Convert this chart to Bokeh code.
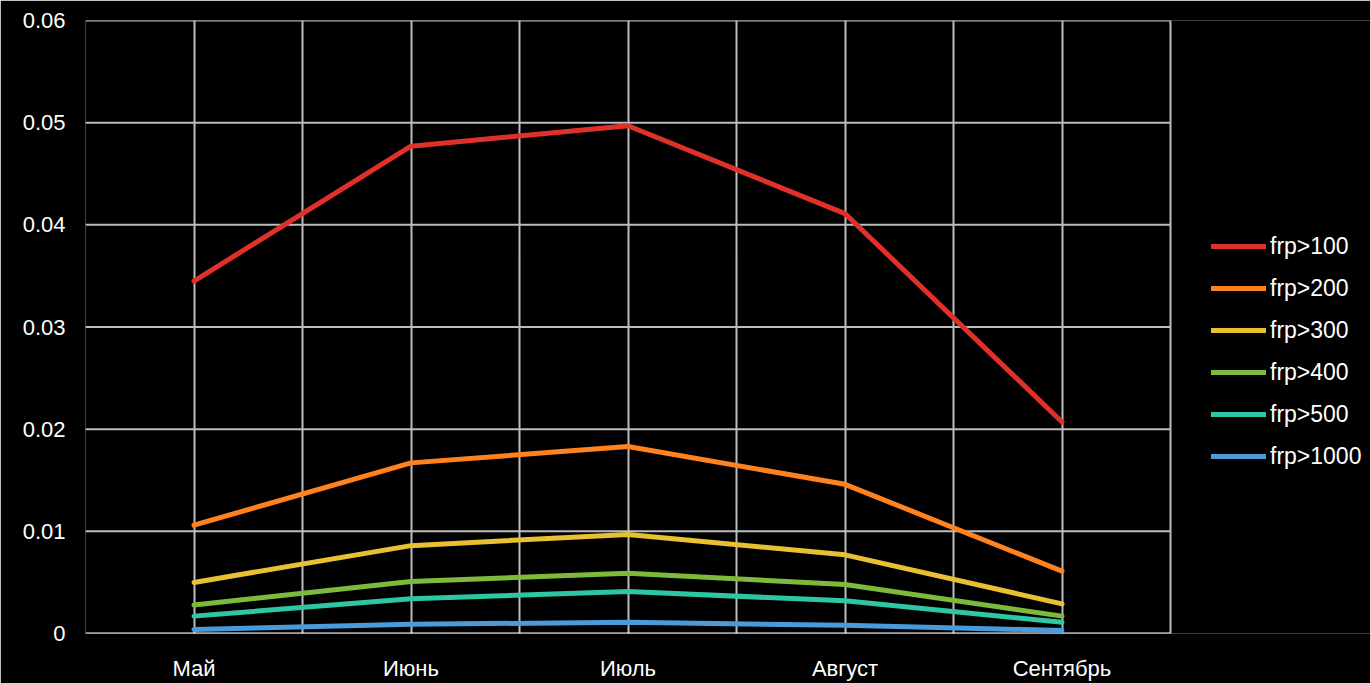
from bokeh.plotting import figure
from bokeh.models import (Range1d, FixedTicker, CustomJSTickFormatter, Legend, LegendItem)
from bokeh.embed import file_html
from bokeh.resources import INLINE

# Monthly shares of fire pixels above FRP thresholds
months = ["Май", "Июнь", "Июль", "Август", "Сентябрь"]
frp_100 = [0.0345, 0.0477, 0.0497, 0.0411, 0.0207]
frp_200 = [0.0106, 0.0167, 0.0183, 0.0146, 0.0061]
frp_300 = [0.0050, 0.0086, 0.0097, 0.0077, 0.0029]
frp_400 = [0.0028, 0.0051, 0.0059, 0.0048, 0.0017]
frp_500 = [0.0017, 0.0034, 0.0041, 0.0032, 0.0011]
frp_1000 = [0.0004, 0.0009, 0.0011, 0.0008, 0.0003]
series_names = ["frp>100", "frp>200", "frp>300", "frp>400", "frp>500", "frp>1000"]
y_ticks = [0, 0.01, 0.02, 0.03, 0.04, 0.05, 0.06]

series = [frp_100, frp_200, frp_300, frp_400, frp_500, frp_1000]
colors = ["#E0302A", "#FF821E", "#E8C032", "#7DBA3C", "#2EC7A5", "#4A9BDC"]
FONT = "Liberation Sans"
GRID = "#BDBDBD"

W, H = 1370, 683
LEFT, TOP, BOTTOM = 85, 20, 50
PLOT_W = 1085          # width of the gridded chart area
n = len(months)
x_pos = list(range(1, n + 1))
x_lo, x_hi = 0.5, n + 0.5
# the frame runs to the right edge so the legend can sit beside the grid
x_end = x_lo + (x_hi - x_lo) * (W - LEFT) / PLOT_W

p = figure(width=W, height=H, output_backend="svg", toolbar_location=None,
           x_range=Range1d(x_lo, x_end), y_range=Range1d(0, max(y_ticks)),
           min_border_left=LEFT, min_border_right=0, min_border_top=TOP,
           min_border_bottom=BOTTOM)
p.background_fill_color = "black"
p.border_fill_color = "black"
p.outline_line_color = None

# vertical grid at category centres and midpoints
p.xgrid.ticker = FixedTicker(ticks=[x_lo + 0.5 * i for i in range(2 * n + 1)])
p.xgrid.grid_line_color = GRID
p.xgrid.grid_line_width = 2
p.xgrid.bounds = (x_lo, x_hi)

# horizontal grid limited to the chart area; baseline in white
p.ygrid.grid_line_color = None
p.segment(x0=[x_lo] * (len(y_ticks) - 1), x1=[x_hi] * (len(y_ticks) - 1),
          y0=y_ticks[1:], y1=y_ticks[1:], line_color=GRID, line_width=2)
p.segment(x0=[x_lo], x1=[x_hi], y0=[y_ticks[0]], y1=[y_ticks[0]],
          line_color="white", line_width=2)

# axes
p.xaxis.ticker = FixedTicker(ticks=x_pos)
p.xaxis.major_label_overrides = {i: m for i, m in zip(x_pos, months)}
p.xaxis.major_label_standoff = 22

p.yaxis.ticker = FixedTicker(ticks=y_ticks)
p.yaxis.formatter = CustomJSTickFormatter(
    code="return tick.toFixed(2).replace(/0+$/, '').replace(/\\.$/, '');")
p.yaxis.major_label_standoff = 20

for ax in (p.xaxis, p.yaxis):
    ax.axis_line_color = None
    ax.major_tick_line_color = None
    ax.major_tick_out = 0
    ax.major_tick_in = 0
    ax.minor_tick_line_color = None
    ax.major_label_text_color = "white"
    ax.major_label_text_font = FONT
    ax.major_label_text_font_size = "22px"

items = []
for name, vals, col in zip(series_names, series, colors):
    r = p.line(x_pos, vals, line_color=col, line_width=5,
               line_join="round", line_cap="round")
    items.append(LegendItem(label=name, renderers=[r]))

legend = Legend(items=items, location=(PLOT_W + 41, 162),
                background_fill_alpha=0, border_line_color=None,
                label_text_color="white", label_text_font=FONT,
                label_text_font_size="23px", glyph_width=55, glyph_height=30,
                label_height=30, label_standoff=4, spacing=12,
                padding=0, margin=0)
p.add_layout(legend)

open("out.html", "w").write(file_html(p, INLINE))
